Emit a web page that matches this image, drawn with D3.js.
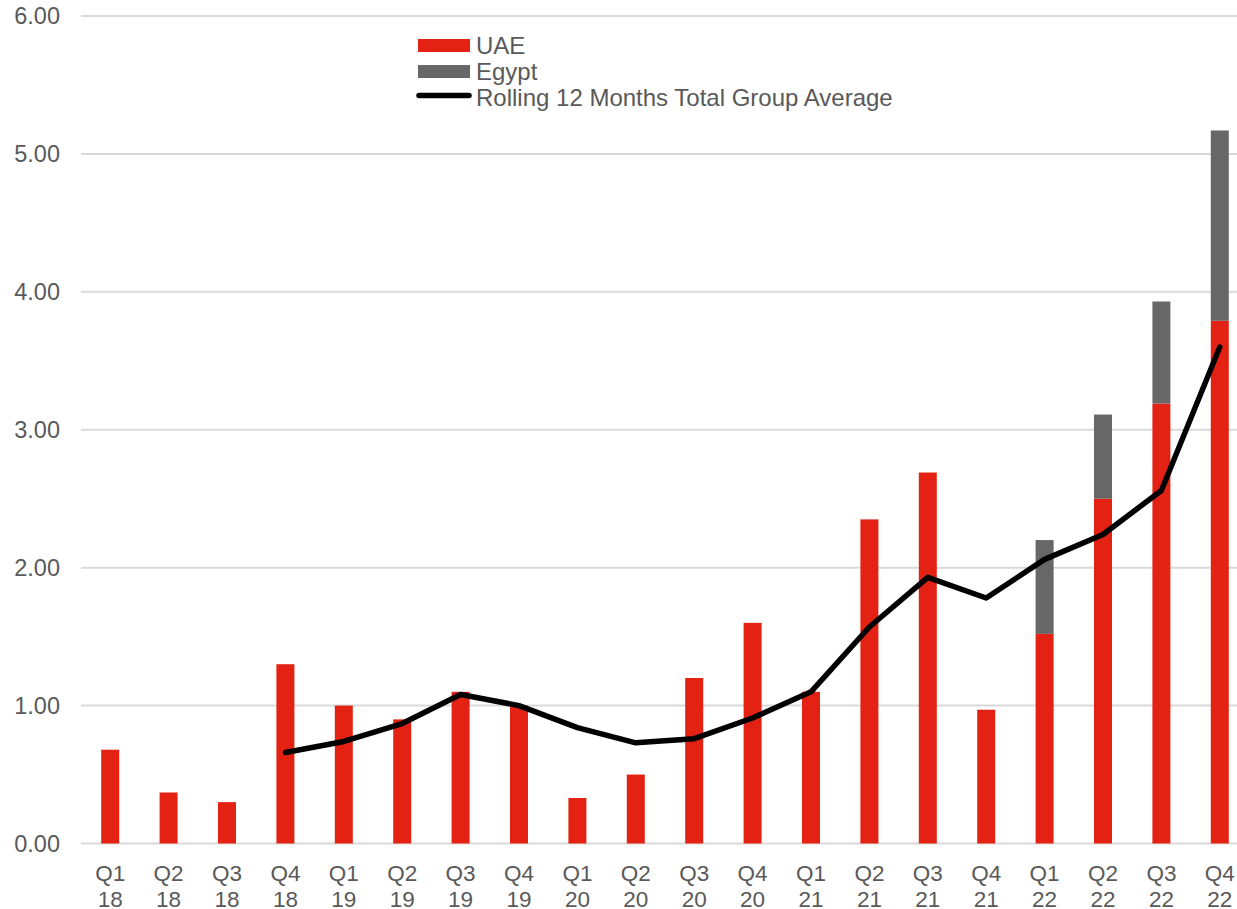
<!DOCTYPE html>
<html>
<head>
<meta charset="utf-8">
<script src="https://cdn.jsdelivr.net/npm/d3@7"></script>
<style>
  html, body { margin: 0; padding: 0; background: #fff; overflow: hidden; }
  svg { display: block; font-family: "Liberation Sans", Arial, sans-serif; }
</style>
</head>
<body>
<svg id="chart" width="1237" height="909"></svg>
<script>
// Quarter labels (two lines each)
const quarters = ["Q1","Q2","Q3","Q4","Q1","Q2","Q3","Q4","Q1","Q2","Q3","Q4","Q1","Q2","Q3","Q4","Q1","Q2","Q3","Q4"];
const years    = ["18","18","18","18","19","19","19","19","20","20","20","20","21","21","21","21","22","22","22","22"];
const categories = quarters.map((q, i) => q + " " + years[i]);

// Series values
const uae   = [0.68, 0.37, 0.30, 1.30, 1.00, 0.90, 1.10, 1.00, 0.33, 0.50, 1.20, 1.60, 1.10, 2.35, 2.69, 0.97, 1.52, 2.50, 3.19, 3.79];
const egypt = [0, 0, 0, 0, 0, 0, 0, 0, 0, 0, 0, 0, 0, 0, 0, 0, 0.68, 0.61, 0.74, 1.38];
const rolling = [null, null, null, 0.66, 0.74, 0.87, 1.08, 1.00, 0.84, 0.73, 0.76, 0.91, 1.10, 1.57, 1.93, 1.78, 2.06, 2.24, 2.56, 3.60];

const yTicks = [0, 1, 2, 3, 4, 5, 6];

const colors = { uae: "#e32213", egypt: "#676767", line: "#000000", text: "#595959", grid: "#d9d9d9" };

const svg = d3.select("#chart");

const x = d3.scaleBand()
  .domain(categories)
  .range([81, 1249])
  .paddingInner(0.692)
  .paddingOuter(0.346);

const y = d3.scaleLinear().domain([0, 6]).range([843.5, 16]);

// Gridlines
svg.append("g")
  .selectAll("line")
  .data(yTicks)
  .join("line")
  .attr("x1", 81).attr("x2", 1249)
  .attr("y1", d => y(d)).attr("y2", d => y(d))
  .attr("stroke", colors.grid)
  .attr("stroke-width", 2);

// Y axis labels
const yAxis = d3.axisLeft(y).tickValues(yTicks).tickFormat(d3.format(".2f")).tickSize(0).tickPadding(0);
const gy = svg.append("g").attr("transform", "translate(60,0)").call(yAxis);
gy.select(".domain").remove();
gy.selectAll("text")
  .attr("fill", colors.text)
  .attr("font-size", 23.5)
  .attr("font-family", "Liberation Sans, Arial, sans-serif");

// Stacked bars
const stackData = categories.map((c, i) => ({ cat: c, uae: uae[i], egypt: egypt[i] }));
const stack = d3.stack().keys(["uae", "egypt"])(stackData);
svg.append("g")
  .selectAll("g")
  .data(stack)
  .join("g")
  .attr("fill", d => colors[d.key])
  .selectAll("rect")
  .data(d => d.filter(s => s[1] - s[0] > 0))
  .join("rect")
  .attr("x", d => x(d.data.cat))
  .attr("width", x.bandwidth())
  .attr("y", d => y(d[1]))
  .attr("height", d => y(d[0]) - y(d[1]));

// Rolling average line
const line = d3.line()
  .defined(d => d.v !== null)
  .x(d => x(d.cat) + x.bandwidth() / 2)
  .y(d => y(d.v));
svg.append("path")
  .datum(categories.map((c, i) => ({ cat: c, v: rolling[i] })))
  .attr("d", line)
  .attr("fill", "none")
  .attr("stroke", colors.line)
  .attr("stroke-width", 5.5)
  .attr("stroke-linejoin", "round")
  .attr("stroke-linecap", "round");

// X axis labels (quarter / year)
const xl = svg.append("g")
  .selectAll("text")
  .data(categories)
  .join("text")
  .attr("text-anchor", "middle")
  .attr("fill", colors.text)
  .attr("font-size", 22.5)
  .attr("x", d => x(d) + x.bandwidth() / 2);
xl.append("tspan").attr("x", d => x(d) + x.bandwidth() / 2).attr("y", 881).text((d, i) => quarters[i]);
xl.append("tspan").attr("x", d => x(d) + x.bandwidth() / 2).attr("y", 907).text((d, i) => years[i]);

// Legend
const legend = svg.append("g");
const legendItems = [
  { label: "UAE", type: "rect", color: colors.uae },
  { label: "Egypt", type: "rect", color: colors.egypt },
  { label: "Rolling 12 Months Total Group Average", type: "line", color: colors.line }
];
legendItems.forEach((it, i) => {
  const cy = 45.5 + i * 26;
  if (it.type === "rect") {
    legend.append("rect").attr("x", 418).attr("y", cy - 6.5).attr("width", 52).attr("height", 13).attr("fill", it.color);
  } else {
    legend.append("line").attr("x1", 419).attr("x2", 469).attr("y1", cy - 2).attr("y2", cy - 2)
      .attr("stroke", it.color).attr("stroke-width", 5.5).attr("stroke-linecap", "round");
  }
  legend.append("text").attr("x", 476).attr("y", cy + 8).attr("fill", colors.text).attr("font-size", 24).text(it.label);
});
</script>
</body>
</html>
